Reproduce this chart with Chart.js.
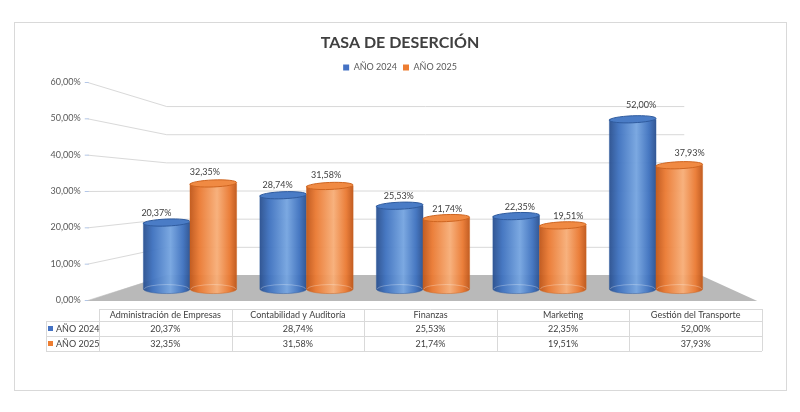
<!DOCTYPE html>
<html lang="es">
<head>
<meta charset="utf-8">
<title>Tasa de deserción</title>
<script src="https://cdn.jsdelivr.net/npm/chart.js@4.4.1/dist/chart.umd.min.js"></script>
<style>
  html, body { margin: 0; padding: 0; background: #fff; }
  #wrap { position: relative; width: 800px; height: 412px; }
</style>
</head>
<body>
<div id="wrap"><canvas id="chartDesercion"></canvas></div>
<script>
/* global Chart */
const categories = ["Administración de Empresas", "Contabilidad y Auditoría", "Finanzas", "Marketing", "Gestión del Transporte"];
const seriesNames = ["AÑO 2024", "AÑO 2025"];
const values2024 = [20.37, 28.74, 25.53, 22.35, 52.00];
const values2025 = [32.35, 31.58, 21.74, 19.51, 37.93];
const yTicks = [0, 10, 20, 30, 40, 50, 60];

const pct = v => v.toFixed(2).replace(".", ",") + "%";

const BLUE = { base: "#4472C4", dark: "#2b5190", light: "#76a5e0", mid: "#3f72bf", top: "#4a7cc6", rim: "#2f5b9e" };
const ORANGE = { base: "#ED7D31", dark: "#c0571a", light: "#f7ae78", mid: "#ea7a33", top: "#f08a43", rim: "#cf6520" };

Chart.defaults.font.family = "Lato, 'Open Sans', sans-serif";

// draws the 3D look: back wall grid, floor, cylinders, labels and data table
const cylinderPlugin = {
  id: "cylinders",
  beforeDraw(chart) {
    const ctx = chart.ctx;
    ctx.save();
    ctx.fillStyle = "#fff";
    ctx.fillRect(0, 0, chart.width, chart.height);
    ctx.strokeStyle = "#d9d9d9";
    ctx.lineWidth = 1;
    ctx.strokeRect(14.5, 22.5, 772, 368);
    ctx.restore();
  },
  beforeDatasetsDraw(chart) {
    const ctx = chart.ctx;
    const area = chart.chartArea;
    const y = chart.scales.y;
    const frontY0 = y.getPixelForValue(0);
    const backY0 = frontY0 - 25;
    const backOf = py => backY0 + (py - frontY0) * 0.775;
    const xFront = area.left - 44, xBackL = area.left + 35, xBackR = area.right - 30;

    ctx.save();
    // walls grid
    ctx.lineWidth = 1;
    yTicks.forEach(v => {
      const fy = y.getPixelForValue(v);
      const by = backOf(fy);
      ctx.strokeStyle = "#d9d9d9";
      ctx.beginPath();
      ctx.moveTo(xFront, fy + 0.5);
      ctx.lineTo(xBackL, by + 0.5);
      ctx.lineTo(xBackR, by + 0.5);
      ctx.stroke();
      ctx.strokeStyle = "#b4c7e7";
      ctx.beginPath();
      ctx.moveTo(xFront - 3, fy + 0.5);
      ctx.lineTo(xFront + 1, fy + 0.5);
      ctx.stroke();
    });

    // floor
    ctx.fillStyle = "#b9b9b9";
    ctx.beginPath();
    ctx.moveTo(area.left - 45, frontY0 + 1);
    ctx.lineTo(area.right + 43, frontY0 + 1);
    ctx.lineTo(area.right - 14, backY0);
    ctx.lineTo(area.left + 35, backY0);
    ctx.closePath();
    ctx.fill();

    // cylinders
    const cx = (area.left + area.right) / 2;
    const styles = [BLUE, ORANGE];
    const sets = [values2024, values2025];
    chart.data.datasets.forEach((ds, di) => {
      const meta = chart.getDatasetMeta(di);
      const c = styles[di];
      meta.data.forEach(el => {
        const rx = el.width / 2;
        const top = el.y, base = el.base;
        const g = ctx.createLinearGradient(el.x - rx, 0, el.x + rx, 0);
        g.addColorStop(0, c.dark);
        g.addColorStop(0.2, c.mid);
        g.addColorStop(0.58, c.light);
        g.addColorStop(0.85, c.mid);
        g.addColorStop(1, c.dark);
        ctx.globalAlpha = 0.96;
        ctx.fillStyle = g;
        ctx.beginPath();
        ctx.moveTo(el.x - rx, top);
        ctx.lineTo(el.x - rx, base);
        ctx.ellipse(el.x, base, rx, 4.5, 0, Math.PI, 0, true);
        ctx.lineTo(el.x + rx, top);
        ctx.closePath();
        ctx.fill();
        ctx.strokeStyle = c.rim;
        ctx.globalAlpha = 0.6;
        ctx.lineWidth = 0.8;
        ctx.stroke();
        ctx.globalAlpha = 0.35;
        ctx.strokeStyle = "#ffffff";
        ctx.beginPath();
        ctx.ellipse(el.x, base, rx - 1, 4.5, 0, Math.PI, 2 * Math.PI);
        ctx.stroke();
        ctx.globalAlpha = 1;
        // top cap
        ctx.fillStyle = c.top;
        ctx.strokeStyle = c.rim;
        ctx.lineWidth = 1;
        ctx.beginPath();
        ctx.ellipse(el.x, top, rx, 3.5, -0.04, 0, 2 * Math.PI);
        ctx.fill();
        ctx.stroke();
      });
    });

    // data labels
    ctx.font = "9px Lato, sans-serif";
    ctx.fillStyle = "#404040";
    ctx.textAlign = "center";
    ctx.textBaseline = "middle";
    chart.data.datasets.forEach((ds, di) => {
      const meta = chart.getDatasetMeta(di);
      meta.data.forEach((el, i) => {
        const v = sets[di][i];
        ctx.fillText(pct(v), el.x + (el.x - cx) * 0.04, el.y - (6 + v * 0.15));
      });
    });

    // data table
    const tLeft = 46, tLab = 99, tRight = 762;
    const rows = [309, 321, 336, 351];
    const colW = (tRight - tLab) / categories.length;
    ctx.strokeStyle = "#d9d9d9";
    ctx.lineWidth = 1;
    ctx.beginPath();
    ctx.moveTo(tLab, rows[0] + 0.5); ctx.lineTo(tRight, rows[0] + 0.5);
    for (let r = 1; r < rows.length; r++) {
      ctx.moveTo(tLeft, rows[r] + 0.5); ctx.lineTo(tRight, rows[r] + 0.5);
    }
    ctx.moveTo(tLeft + 0.5, rows[1]); ctx.lineTo(tLeft + 0.5, rows[3]);
    for (let k = 0; k <= categories.length; k++) {
      const xx = Math.round(tLab + k * colW) + 0.5;
      ctx.moveTo(xx, rows[0]); ctx.lineTo(xx, rows[3]);
    }
    ctx.stroke();

    ctx.fillStyle = "#404040";
    ctx.textAlign = "center";
    categories.forEach((cat, k) => {
      const mx = tLab + (k + 0.5) * colW;
      ctx.fillText(cat, mx, (rows[0] + rows[1]) / 2 + 0.5);
      ctx.fillText(pct(values2024[k]), mx, (rows[1] + rows[2]) / 2 + 0.5);
      ctx.fillText(pct(values2025[k]), mx, (rows[2] + rows[3]) / 2 + 0.5);
    });
    ctx.textAlign = "left";
    seriesNames.forEach((name, r) => {
      const my = (rows[r + 1] + rows[r + 2]) / 2;
      ctx.fillStyle = styles[r].base;
      ctx.fillRect(48, my - 2.5, 5, 5);
      ctx.fillStyle = "#404040";
      ctx.fillText(name, 56, my + 0.5);
    });
    ctx.restore();
    return false;
  }
};

const canvas = document.getElementById("chartDesercion");
new Chart(canvas.getContext("2d"), {
  type: "bar",
  data: {
    labels: categories,
    datasets: [
      { label: seriesNames[0], data: values2024, backgroundColor: BLUE.base, yAxisID: "yb" },
      { label: seriesNames[1], data: values2025, backgroundColor: ORANGE.base, yAxisID: "yb" }
    ]
  },
  options: {
    responsive: true,
    maintainAspectRatio: false,
    animation: false,
    categoryPercentage: 0.8,
    barPercentage: 1,
    layout: { padding: { left: 0, right: 0, top: 25, bottom: 112 } },
    plugins: {
      title: {
        display: true,
        text: "TASA DE DESERCIÓN",
        color: "#404040",
        font: { size: 16, weight: "bold", lineHeight: 1.2 },
        padding: { top: 8, bottom: 4.8 }
      },
      legend: {
        position: "top",
        labels: { boxWidth: 6, boxHeight: 6, padding: 6, color: "#595959", font: { size: 9 } }
      },
      tooltip: { enabled: false }
    },
    scales: {
      x: { display: false, grid: { display: false } },
      y: {
        min: 0,
        max: 60,
        position: "left",
        afterFit: s => { s.width = 131.75; },
        afterBuildTicks: s => { s.ticks = yTicks.map(v => ({ value: v })); },
        ticks: { padding: 51, color: "#595959", font: { size: 9 }, callback: v => pct(v) },
        grid: { display: false, drawTicks: false },
        border: { display: false }
      },
      // bars sit halfway into the 3D box, so they use their own scale
      yb: {
        position: "right",
        min: -3.35,
        max: 63.42,
        afterFit: s => { s.width = 85.75; },
        ticks: { display: false },
        grid: { display: false, drawTicks: false },
        border: { display: false }
      }
    }
  },
  plugins: [cylinderPlugin]
});
</script>
</body>
</html>
